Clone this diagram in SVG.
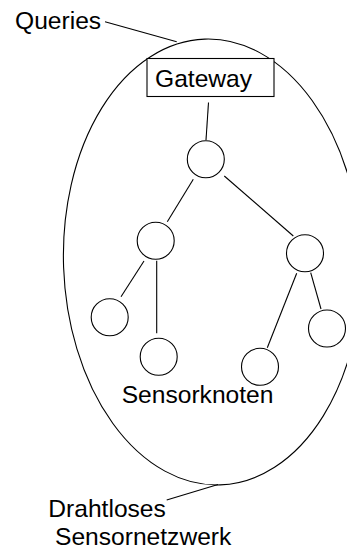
<svg xmlns="http://www.w3.org/2000/svg" width="347" height="554" viewBox="0 0 347 554">
  <style>
    .ln { fill: none; stroke: #000; stroke-width: 1.1; }
    .nd { fill: #fff; stroke: #000; stroke-width: 1.1; }
    .tx { font-family: "Liberation Sans", Arial, sans-serif; font-size: 24.6px; fill: #000; }
  </style>
  <rect width="347" height="554" fill="#fff"/>

  <!-- network boundary -->
  <g id="network">
    <ellipse class="ln" cx="212.5" cy="262" rx="149" ry="223" transform="rotate(-2 212.5 262)"/>
  </g>

  <!-- connectors -->
  <g id="connectors">
    <line class="ln" x1="105" y1="21.7" x2="176.7" y2="41.7"/>
    <line class="ln" x1="166.7" y1="500" x2="218" y2="484.5"/>
    <line class="ln" x1="208.5" y1="102.5" x2="206" y2="140"/>
    <line class="ln" x1="193.3" y1="179.3" x2="167.3" y2="221.7"/>
    <line class="ln" x1="224.3" y1="176" x2="293.3" y2="236"/>
    <line class="ln" x1="144" y1="261" x2="121" y2="296.7"/>
    <line class="ln" x1="156.7" y1="260.7" x2="156.7" y2="333.3"/>
    <line class="ln" x1="296.7" y1="273.3" x2="267.3" y2="347.7"/>
    <line class="ln" x1="310.7" y1="272.7" x2="321" y2="309"/>
  </g>

  <g id="queries">
    <text class="tx" x="15" y="28.5">Queries</text>
  </g>

  <g id="gateway">
    <rect class="nd" x="147" y="58.5" width="127" height="38"/>
    <text class="tx" x="155" y="86.5">Gateway</text>
  </g>

  <g id="n1"><circle class="nd" cx="205.8" cy="159.2" r="18.5"/></g>
  <g id="n2"><circle class="nd" cx="155.7" cy="240.8" r="18.5"/></g>
  <g id="n3"><circle class="nd" cx="305" cy="253.3" r="18.5"/></g>
  <g id="n4"><circle class="nd" cx="109.7" cy="317.2" r="18.5"/></g>
  <g id="n5"><circle class="nd" cx="158.7" cy="356.8" r="18.5"/></g>
  <g id="n6"><circle class="nd" cx="260" cy="366.8" r="18.5"/></g>
  <g id="n7"><circle class="nd" cx="327" cy="328.5" r="18.5"/></g>

  <g id="sensor-label">
    <text class="tx" x="121.7" y="403.3">Sensorknoten</text>
  </g>

  <g id="network-label">
    <text class="tx" x="48.3" y="516.7">Drahtloses</text>
    <text class="tx" x="55" y="545">Sensornetzwerk</text>
  </g>
</svg>
